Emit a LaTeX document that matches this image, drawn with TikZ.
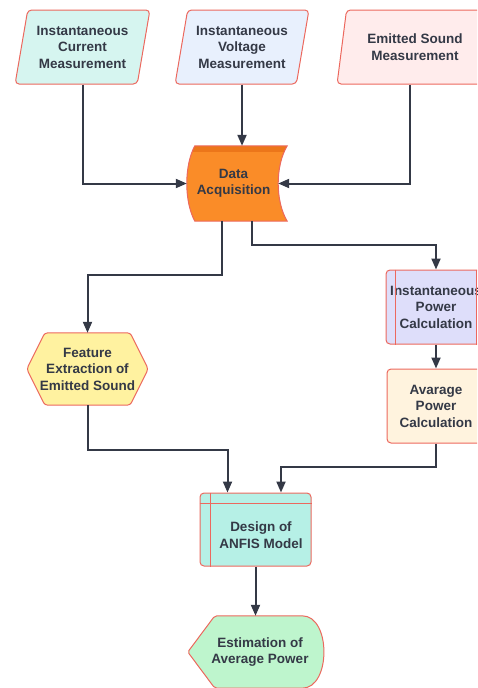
\documentclass[tikz,border=0pt]{standalone}
\usepackage{fontspec}
\setmainfont{Liberation Sans}
\usetikzlibrary{shapes.geometric,arrows.meta,calc}
\definecolor{Edge}{RGB}{236,104,94}
\definecolor{Ink}{RGB}{52,57,70}
\definecolor{CurBg}{RGB}{214,245,240}
\definecolor{VoltBg}{RGB}{232,240,253}
\definecolor{SndBg}{RGB}{255,236,236}
\definecolor{AcqBg}{RGB}{250,140,40}
\definecolor{AcqTop}{RGB}{236,118,26}
\definecolor{HexBg}{RGB}{255,242,160}
\definecolor{PowBg}{RGB}{222,222,250}
\definecolor{AvgBg}{RGB}{255,243,222}
\definecolor{AnfisBg}{RGB}{182,240,230}
\definecolor{EstBg}{RGB}{190,245,205}
\newcommand{\acqpath}{([xshift=8pt]acq.north west) -- ([xshift=7pt]acq.north east)
  .. controls ([xshift=-5pt,yshift=-20pt]acq.north east) and ([xshift=-5pt,yshift=20pt]acq.south east) .. ([xshift=7pt]acq.south east)
  -- ([xshift=8pt]acq.south west)
  .. controls ([xshift=-2.7pt,yshift=20pt]acq.south west) and ([xshift=-2.7pt,yshift=-20pt]acq.north west) .. ([xshift=8pt]acq.north west) -- cycle}
\tikzset{
  tlabel/.style={font=\fontsize{13.5}{16.5}\selectfont\bfseries,text=Ink,align=center,inner sep=0pt},
  tio/.style={trapezium,trapezium left angle=76,trapezium right angle=104,trapezium stretches=true,
              draw=Edge,line width=1pt,rounded corners=4pt,tlabel,minimum height=74pt},
  tproc/.style={rectangle,draw=Edge,line width=1pt,rounded corners=4pt,tlabel,minimum height=74pt},
  tbare/.style={rectangle,tlabel},
  tline/.style={draw=Edge,line width=1pt,rounded corners=3pt},
  tedge/.style={-{Triangle[length=11pt,width=9pt]},draw=Ink,line width=2pt},
}

\begin{document}
\begin{tikzpicture}[x=1pt,y=-1pt]
  \useasboundingbox (0,0) rectangle (477,688);
  \clip (0,0) rectangle (477,688);

  % inputs
  \node[tio,fill=CurBg,minimum width=135pt] (cur) at (82.5,47) {Instantaneous\\Current\\Measurement};
  \node[tio,fill=VoltBg,minimum width=134pt] (volt) at (242,47) {Instantaneous\\Voltage\\Measurement};
  \node[tio,fill=SndBg,minimum width=156pt] (snd) at (415,47) {Emitted Sound\\Measurement};

  % stored data
  \node[tbare,minimum width=93pt,minimum height=75pt] (acq) at (233.5,183.5) {};
  \fill[AcqBg] \acqpath;
  \begin{scope}
    \clip \acqpath;
    \fill[AcqTop] ([xshift=-10pt]acq.north west) rectangle ([xshift=10pt,yshift=-6pt]acq.north east);
  \end{scope}
  \draw[tline,rounded corners=0pt] \acqpath;
  \node[tlabel] at (acq) {Data\\Acquisition};

  % feature extraction
  \node[tbare,minimum width=121pt,minimum height=72pt] (hexf) at (87.5,369) {};
  \filldraw[tline,fill=HexBg] ([xshift=18pt]hexf.north west) -- ([xshift=-18pt]hexf.north east) -- (hexf.east)
    -- ([xshift=-18pt]hexf.south east) -- ([xshift=18pt]hexf.south west) -- (hexf.west) -- cycle;
  \node[tlabel] at (hexf) {Feature\\Extraction of\\Emitted Sound};

  % power branch
  \node[tproc,fill=PowBg,minimum width=100pt] (ipow) at (436,307) {Instantaneous\\Power\\Calculation};
  \draw[Edge,line width=1pt] ([xshift=10pt]ipow.north west) -- ([xshift=10pt]ipow.south west);
  \draw[Edge,line width=1pt] ([xshift=-10pt]ipow.north east) -- ([xshift=-10pt]ipow.south east);
  \node[tproc,fill=AvgBg,minimum width=98pt] (avg) at (436,406) {Avarage\\Power\\Calculation};

  % model
  \node[tproc,fill=AnfisBg,minimum width=111pt,minimum height=73pt,
        label={[tlabel,xshift=5.5pt,yshift=-5.5pt]center:Design of\\ANFIS Model}] (anfis) at (255.5,529.5) {};
  \draw[Edge,line width=1pt] ([xshift=11pt]anfis.north west) -- ([xshift=11pt]anfis.south west);
  \draw[Edge,line width=1pt] ([yshift=-11pt]anfis.north west) -- ([yshift=-11pt]anfis.north east);

  % output display
  \node[tbare,minimum width=130pt,minimum height=72pt] (est) at (260,652) {};
  \filldraw[tline,fill=EstBg,rounded corners=2pt] ([xshift=-7pt]est.west) -- ([xshift=20pt]est.north west) -- ([xshift=-25pt]est.north east)
    .. controls ([xshift=6pt]est.north east) and ([xshift=6pt]est.south east) .. ([xshift=-25pt]est.south east)
    -- ([xshift=20pt]est.south west) -- cycle;
  \node[tlabel] at (est) {Estimation of\\Average Power};

  % connectors
  \draw[tedge] (cur.south) |- (acq.west);
  \draw[tedge] (volt.south) -- (volt.south |- acq.north);
  \draw[tedge] ([xshift=-5pt]snd.south) |- ([xshift=-2pt]acq.east);
  \draw[tedge] ([xshift=-11.5pt]acq.south) -- ++(0,54) -| (hexf.north);
  \draw[tedge] ([xshift=18.5pt]acq.south) -- ++(0,24) -| (ipow.north);
  \draw[tedge] (ipow.south) -- (avg.north);
  \draw[tedge] (hexf.south) |- ([xshift=-28pt,yshift=43pt]anfis.north) -- ([xshift=-28pt]anfis.north);
  \draw[tedge] (avg.south) |- ([xshift=25.5pt,yshift=26pt]anfis.north) -- ([xshift=25.5pt]anfis.north);
  \draw[tedge] (anfis.south) -- (anfis.south |- est.north);
\end{tikzpicture}
\end{document}
